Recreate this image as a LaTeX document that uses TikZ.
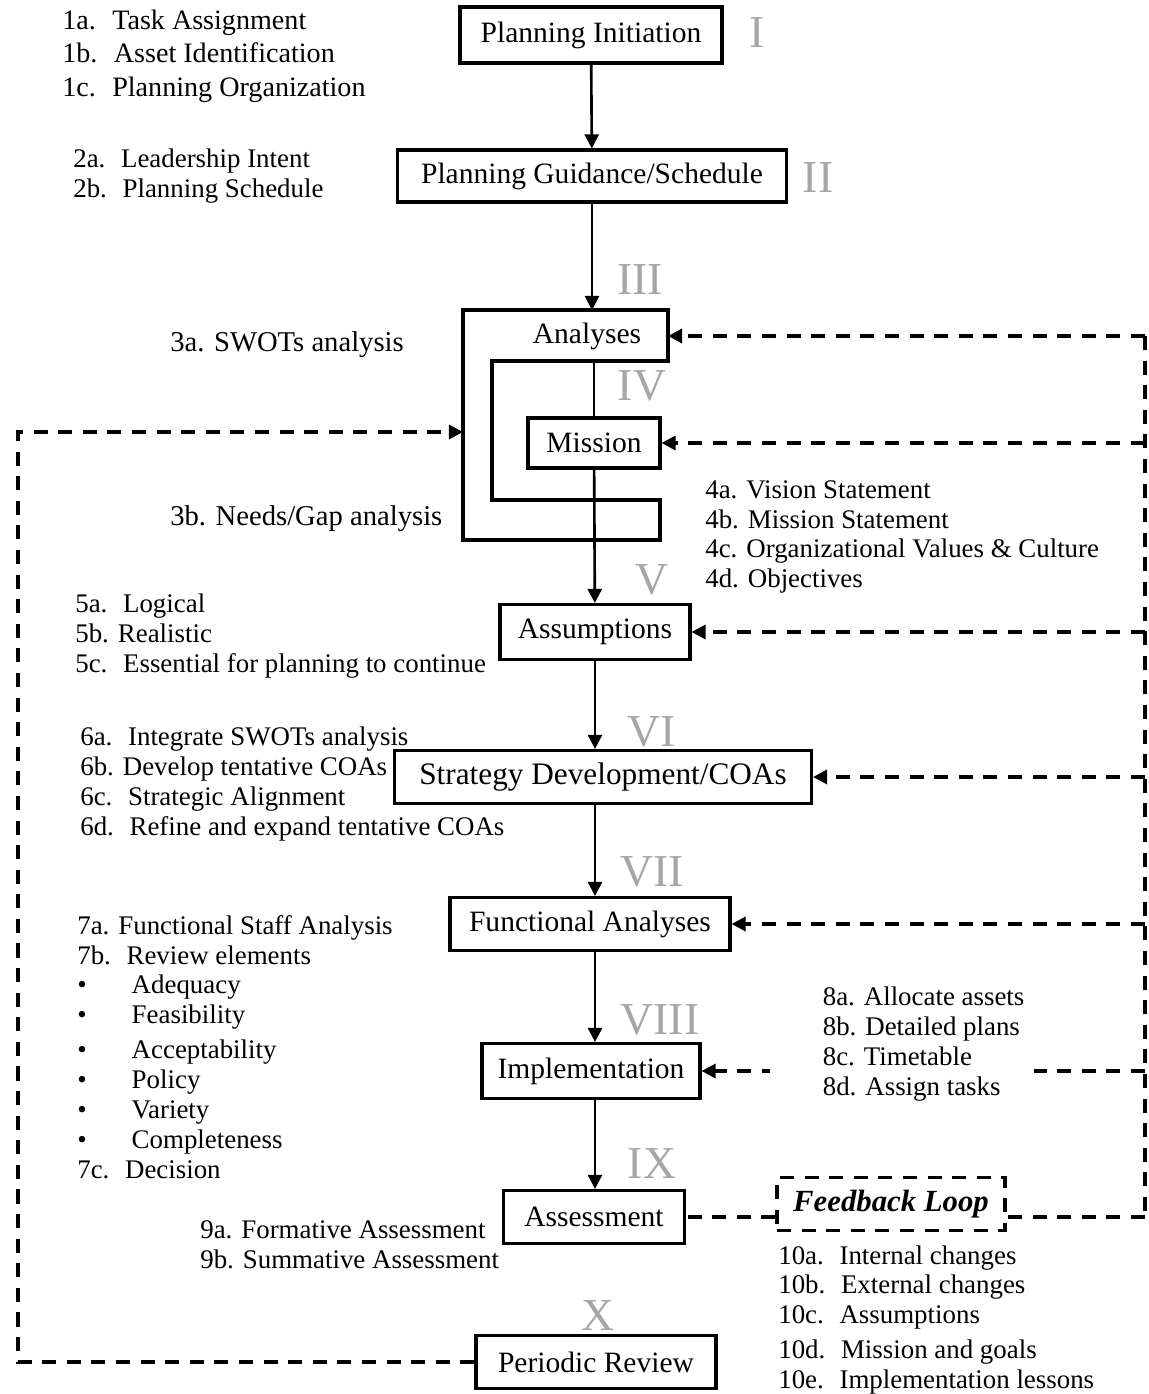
\documentclass[tikz,border=0pt]{standalone}
\usepackage{fontspec}
\setmainfont{Liberation Serif}
\usetikzlibrary{arrows.meta,positioning}

\colorlet{numeral}{black!35}
\tikzset{
  stage/.style={draw, line width=1.8pt, inner sep=0pt, font=\fontsize{16.8}{18}\selectfont},
  notes/.style={anchor=west, align=left, inner sep=0pt, font=\fontsize{15.3}{17}\selectfont},
  numbox/.style={text=numeral, inner sep=0pt, font=\fontsize{26}{26}\selectfont},
  flow/.style={draw, line width=1.5pt, -{Triangle[length=8pt,width=8pt]}},
  plain/.style={draw, line width=1.5pt},
  fb/.style={draw, line width=1.8pt, dash pattern=on 8pt off 6pt},
  fbarrow/.style={fb, -{Triangle[length=8pt,width=8pt]}}
  }

\begin{document}
\begin{tikzpicture}[x=0.02cm, y=-0.02cm]
  \useasboundingbox (0,0) rectangle (1149,1394);

  % main stages
  \node[stage, minimum width=5.24cm, minimum height=1.12cm] (ini) at (591,35) {Planning Initiation};
  \node[stage, minimum width=7.78cm, minimum height=1.04cm] (gui) at (592,176) {Planning Guidance/Schedule};
  \node[inner sep=0pt, font=\fontsize{16.8}{18}\selectfont] (ana) at (587,336) {Analyses};
  \node[stage, minimum width=2.64cm, minimum height=1.0cm] (mis) at (594,443) {Mission};
  \node[stage, minimum width=3.8cm, minimum height=1.1cm] (asm) at (595,632) {Assumptions};
  \node[stage, minimum width=8.34cm, minimum height=1.06cm, font=\fontsize{17.8}{18}\selectfont] (str) at (603,777) {Strategy Development/COAs};
  \node[stage, minimum width=5.6cm, minimum height=1.06cm] (fun) at (590,924) {Functional Analyses};
  \node[stage, minimum width=4.36cm, minimum height=1.1cm] (imp) at (591,1071) {Implementation};
  \node[stage, minimum width=3.62cm, minimum height=1.06cm] (ass) at (594,1217) {Assessment};
  \node[stage, minimum width=4.8cm, minimum height=1.06cm] (per) at (596,1362) {Periodic Review};

  % analyses outline
  \coordinate (aNW) at (463,310);
  \coordinate (aNE) at (668,310);
  \coordinate (aE) at (668,336);
  \coordinate (aW) at (463,432);
  \coordinate (aBar) at (594,361);
  \draw[line width=1.8pt] (aNW) -- (aNE) -- (668,361) -- (492,361) -- (492,500)
    -- (660,500) -- (660,540) -- (463,540) -- cycle;

  % roman numerals
  \foreach \pos/\name/\txt in {{(757,33)/nI/I}, {(818,178)/nII/II}, {(640,280)/nIII/III},
      {(642,386)/nIV/IV}, {(652,580)/nV/V}, {(652,732)/nVI/VI}, {(652,872)/nVII/VII},
      {(660,1020)/nVIII/VIII}, {(652,1164)/nIX/IX}, {(598,1316)/nX/X}} {
    \node[numbox] (\name) at \pos {\txt};
  }

  % flow
  \draw[flow] (ini) -- (gui);
  \draw[flow] (gui) -- (gui |- aNW);
  \draw[plain] (aBar) -- (mis);
  \draw[flow] (mis) -- (asm);
  \draw[flow] (asm) -- (asm |- str.north);
  \draw[flow] (asm |- str.south) -- (asm |- fun.north);
  \draw[flow] (asm |- fun.south) -- (asm |- imp.north);
  \draw[flow] (asm |- imp.south) -- (asm |- ass.north);

  % feedback
  \coordinate (rail) at (1145,0);
  \coordinate (lrail) at (18,0);
  \node[draw, line width=1.8pt, dash pattern=on 8pt off 6pt, minimum width=4.56cm,
    minimum height=1.06cm, inner sep=0pt, font=\fontsize{17.5}{18}\selectfont\bfseries\itshape]
    (fbl) at (891,1204) {Feedback Loop};
  \draw[fb] (aE -| rail) -- (ass.east -| rail);
  \draw[fbarrow] (aE -| rail) -- (aE);
  \draw[fbarrow] (mis.east -| rail) -- (mis.east);
  \draw[fbarrow] (asm.east -| rail) -- (asm.east);
  \draw[fbarrow] (str.east -| rail) -- (str.east);
  \draw[fbarrow] (fun.east -| rail) -- (fun.east);
  \draw[fbarrow] (imp.east -| rail) -- (imp.east);
  \draw[fb] (ass.east -| rail) -- (ass.east -| fbl.east);
  \draw[fb] (ass.east -| fbl.west) -- (ass.east);
  \draw[fbarrow] (per.west) -- (per.west -| lrail) -- (aW -| lrail) -- (aW);

  % notes
  \node[notes, font=\fontsize{16}{17}\selectfont] (t1) at (62,56) {1a.~ Task Assignment\\[2pt] 1b.~ Asset Identification\\[2pt] 1c.~ Planning Organization};
  \node[notes] (t2) at (73,176) {2a.~ Leadership Intent\\ 2b.~ Planning Schedule};
  \node[notes, font=\fontsize{16.3}{18}\selectfont] (t3a) at (170,345) {3a. SWOTs analysis};
  \node[notes, font=\fontsize{16.3}{18}\selectfont] (t3b) at (170,519) {3b. Needs/Gap analysis};
  \node[notes] (t4) at (705,537) {4a. Vision Statement\\ 4b. Mission Statement\\ 4c. Organizational Values \& Culture\\ 4d. Objectives};
  \node[notes] (t5) at (75,636) {5a.~ Logical\\ 5b. Realistic\\ 5c.~ Essential for planning to continue};
  \node[notes] (t6) at (80,784) {6a.~ Integrate SWOTs analysis\\ 6b. Develop tentative COAs\\ 6c.~ Strategic Alignment\\ 6d.~ Refine and expand tentative COAs};
  \node[notes, minimum width=5.0cm, fill=white, inner xsep=0.2cm] (t8) at (770,1044) {\hspace*{0.85cm}8a. Allocate assets\\ \hspace*{0.85cm}8b. Detailed plans\\ \hspace*{0.85cm}8c. Timetable\\ \hspace*{0.85cm}8d. Assign tasks};
  \node[notes] (t7) at (77,1047) {7a. Functional Staff Analysis\\ 7b.~ Review elements\\
    \textbullet\hspace{0.9cm}Adequacy\\ \textbullet\hspace{0.9cm}Feasibility\\[3pt]
    \textbullet\hspace{0.9cm}Acceptability\\ \textbullet\hspace{0.9cm}Policy\\
    \textbullet\hspace{0.9cm}Variety\\ \textbullet\hspace{0.9cm}Completeness\\ 7c.~ Decision};
  \node[notes] (t9) at (200,1245) {9a. Formative Assessment\\ 9b. Summative Assessment};
  \node[notes] (t10) at (778,1320) {10a.~ Internal changes\\ 10b.~ External changes\\ 10c.~ Assumptions\\[3pt] 10d.~ Mission and goals\\ 10e.~ Implementation lessons};

\end{tikzpicture}
\end{document}
